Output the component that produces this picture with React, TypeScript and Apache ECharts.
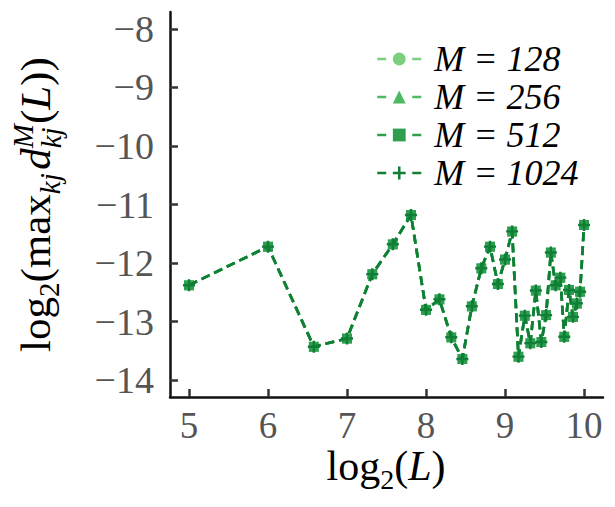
import React, { useEffect, useRef } from 'react';
import * as echarts from 'echarts';

// x = log2(L), y = log2(max_kj d_kj^M(L))
const log2L = [5, 6, 6.58, 7, 7.32, 7.58, 7.81, 8, 8.17, 8.32, 8.46, 8.58, 8.7, 8.81, 8.91, 9, 9.09, 9.17, 9.25, 9.32, 9.39, 9.46, 9.52, 9.58, 9.64, 9.7, 9.75, 9.81, 9.86, 9.91, 9.95, 10];
const logMaxD = [-12.38, -11.72, -13.43, -13.29, -12.19, -11.68, -11.18, -12.8, -12.62, -13.27, -13.64, -12.74, -12.09, -11.72, -12.36, -11.94, -11.46, -13.6, -12.9, -13.37, -12.47, -13.35, -12.89, -11.82, -12.38, -12.25, -13.26, -12.46, -12.92, -12.69, -12.49, -11.35];
const Mvalues = [128, 256, 512, 1024];
const seriesColors = ['#7ccf7c', '#4fb862', '#2e9e50', '#0f7f36'];
const seriesSymbols = ['circle', 'triangle', 'rect', 'path://M4,0h2v4h4v2h-4v4h-2v-4h-4v-2h4z'];
const xTicks = [5, 6, 7, 8, 9, 10];
const yTicks = [-14, -13, -12, -11, -10, -9, -8];

const FONT = "'Liberation Serif', serif";

type Piece = { t: string; size: number; italic?: boolean; base?: number; stackWith?: Piece };

let ctx: CanvasRenderingContext2D | null = null;
function measure(text: string, size: number, italic?: boolean): number {
  if (!ctx) ctx = document.createElement('canvas').getContext('2d');
  if (!ctx) return text.length * size * 0.5;
  ctx.font = `${italic ? 'italic ' : ''}${size}px ${FONT}`;
  return ctx.measureText(text).width;
}

function buildPieces(pieces: Piece[], color: string) {
  const els: any[] = [];
  let x = 0;
  const mk = (p: Piece, px: number) => ({
    type: 'text',
    x: px,
    y: (p.base || 0) - 0.34 * p.size,
    style: {
      text: p.t,
      fontSize: p.size,
      fontFamily: FONT,
      fontStyle: p.italic ? 'italic' : 'normal',
      fill: color,
      align: 'left',
      verticalAlign: 'middle',
    },
  });
  for (const p of pieces) {
    let w = measure(p.t, p.size, p.italic);
    els.push(mk(p, x));
    if (p.stackWith) {
      els.push(mk(p.stackWith, x));
      w = Math.max(w, measure(p.stackWith.t, p.stackWith.size, p.stackWith.italic));
    }
    x += w;
  }
  return { els, width: x };
}

export default function App() {
  const ref = useRef<HTMLDivElement>(null);
  useEffect(() => {
    if (!ref.current) return;
    const chart = echarts.init(ref.current, null, { renderer: 'svg' });
    const S = 43;
    const s = 29;
    const yl = buildPieces(
      [
        { t: 'log', size: S },
        { t: '2', size: s, base: 9 },
        { t: '(', size: S },
        { t: 'max', size: S },
        { t: 'kj', size: s, italic: true, base: 10 },
        { t: ' ', size: 14 },
        { t: 'd', size: S, italic: true },
        { t: 'M', size: s, italic: true, base: -17, stackWith: { t: 'kj', size: s, italic: true, base: 11 } },
        { t: '(', size: S },
        { t: 'L', size: S, italic: true },
        { t: ')', size: S },
        { t: ')', size: S },
      ],
      '#000'
    );
    const SX = 42;
    const sx = 28;
    const xl = buildPieces(
      [
        { t: 'log', size: SX },
        { t: '2', size: sx, base: 9 },
        { t: '(', size: SX },
        { t: 'L', size: SX, italic: true },
        { t: ')', size: SX },
      ],
      '#000'
    );
    const series = Mvalues.map((m, i) => ({
      name: `M = ${m}`,
      type: 'line',
      data: log2L.map((x, j) => [x, logMaxD[j]]),
      symbol: seriesSymbols[i],
      symbolSize: i === 3 ? 12 : 10,
      showSymbol: true,
      color: seriesColors[i],
      lineStyle: { color: seriesColors[i], width: 2.7, type: [9, 5] },
      itemStyle: { color: seriesColors[i] },
      z: 2 + i,
    }));
    chart.setOption({
      animation: false,
      backgroundColor: '#fff',
      grid: { left: 170, right: 12, top: 12, bottom: 110, containLabel: false },
      xAxis: {
        type: 'value',
        min: 4.76,
        max: 10.24,
        axisLine: { show: true, onZero: false, lineStyle: { color: '#111', width: 2.5 } },
        axisTick: { show: true, inside: true, length: 8, customValues: xTicks, lineStyle: { color: '#333', width: 2.5 } },
        axisLabel: { customValues: xTicks, fontSize: 37, lineHeight: 28, fontFamily: FONT, color: '#555', margin: 14 },
        splitLine: { show: false },
      },
      yAxis: {
        type: 'value',
        min: -14.29,
        max: -7.71,
        axisLine: { show: true, onZero: false, lineStyle: { color: '#111', width: 2.5 } },
        axisTick: { show: true, inside: true, length: 8, customValues: yTicks, lineStyle: { color: '#333', width: 2.5 } },
        axisLabel: {
          customValues: yTicks,
          fontSize: 38,
          fontFamily: FONT,
          color: '#555',
          margin: 16,
          formatter: (v: number) => String(v).replace('-', '\u2212'),
        },
        splitLine: { show: false },
      },
      legend: {
        orient: 'vertical',
        left: 371,
        top: 36,
        itemWidth: 44,
        itemHeight: 16,
        itemGap: 2,
        lineStyle: { type: [9, 26], width: 2.5 },
        textStyle: { fontFamily: FONT, fontStyle: 'italic', fontSize: 36, color: '#000', lineHeight: 34, padding: [0, 0, 0, 8] },
        data: Mvalues.map((m) => `M = ${m}`),
      },
      graphic: [
        { type: 'group', x: 50, y: 352, rotation: Math.PI / 2, children: yl.els },
        { type: 'group', x: 386 - xl.width / 2, y: 480, children: xl.els },
      ],
      series,
    });
    return () => chart.dispose();
  }, []);
  return <div ref={ref} style={{ position: 'fixed', left: 0, top: 0, width: 615, height: 507 }} />;
}
